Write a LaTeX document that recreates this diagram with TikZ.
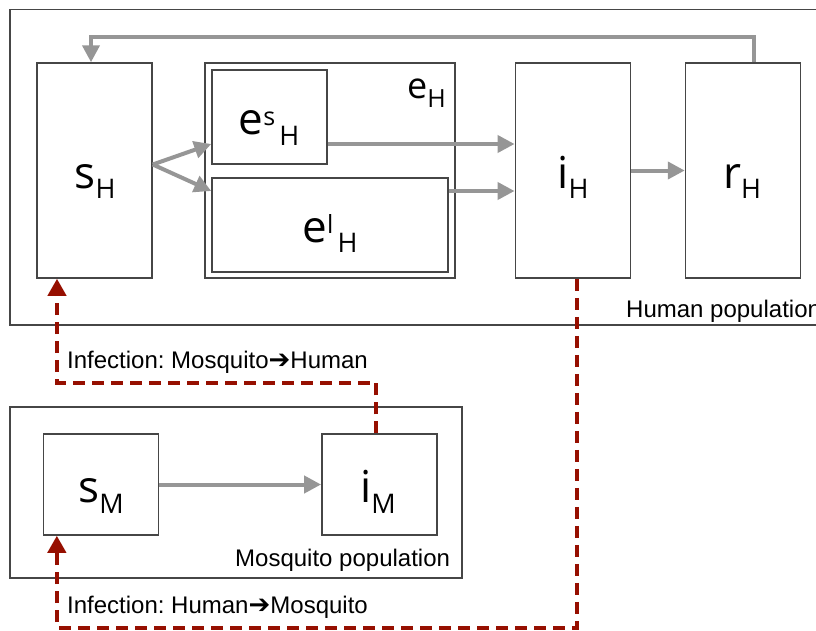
\documentclass[tikz,border=0pt]{standalone}
\usepackage{fontspec}
\setmainfont{Liberation Sans}
\newfontfamily\boxfont{Open Sans}
\newfontfamily\symfont{DejaVu Sans}
\usetikzlibrary{positioning,arrows.meta,calc}
\definecolor{boxgray}{RGB}{70,70,70}
\definecolor{flowgray}{RGB}{150,150,150}
\definecolor{infred}{RGB}{150,15,0}
\frenchspacing

% compartment labels: letter, (superscript), subscript
\newcommand{\cmp}[2]{{\boxfont\fontsize{44}{44}\selectfont #1\raisebox{-10.5pt}{\fontsize{27}{27}\selectfont #2}}}
\newcommand{\cmpx}[3]{{\boxfont\fontsize{44}{44}\selectfont #1\raisebox{9pt}{\fontsize{25}{25}\selectfont #2\,}\raisebox{-10.5pt}{\fontsize{27}{27}\selectfont #3}}}

\begin{document}
\begin{tikzpicture}[x=1pt,y=-1pt,
    comp/.style={draw=boxgray,line width=1.5pt,minimum width=115pt,minimum height=215pt,inner sep=0pt},
    popbox/.style={draw=boxgray,line width=1.5pt},
    flow/.style={draw=flowgray,line width=4pt,-{Triangle[length=17pt,width=17pt]}},
    infect/.style={draw=infred,line width=4pt,dash pattern=on 12pt off 7pt,-{Triangle[length=17pt,width=18pt]}},
    lbl/.style={inner sep=0pt,font=\fontsize{24}{24}\selectfont}]
    \useasboundingbox (0,0) rectangle (816,630);
    \clip (0,0) rectangle (816,630);

    % Populations
    \draw[popbox] (10,9.5) rectangle (840,325);
    \draw[popbox] (10,407) rectangle (462,578);
    \node[lbl,anchor=base west] (humanPop) at (626,317) {Human population};
    \node[lbl,anchor=base west] (mosqPop) at (235,566) {Mosquito population};

    % Human compartments
    \node[comp] (sH) at (94.5,170.5) {};
    \node[comp,minimum width=250pt] (eH) at (330,170.5) {};
    \node[comp,minimum height=94pt] (eS) at (269.5,117) {};
    \node[comp,minimum width=236pt,minimum height=94pt] (eL) at (330,225) {};
    \node[comp] (iH) at (572.8,170.5) {};
    \node[comp,right=53.7pt of iH] (rH) {};

    % Mosquito compartments
    \node[comp,minimum height=101pt] (sM) at (100.85,484.5) {};
    \node[comp,minimum height=101pt,right=162pt of sM] (iM) {};

    % Labels
    \node[inner sep=0pt,anchor=base] (sHtxt) at (95,188) {\cmp{s}{H}};
    \node[inner sep=0pt,anchor=base] (eStxt) at (269,134.5) {\cmpx{e}{s}{H}};
    \node[inner sep=0pt,anchor=base] (eLtxt) at (330,242) {\cmpx{e}{l}{H}};
    \node[inner sep=0pt,anchor=base east] (eHtxt) at (446,98) {{\boxfont\fontsize{36}{36}\selectfont e\raisebox{-9pt}{\fontsize{25}{25}\selectfont H}}};
    \node[inner sep=0pt,anchor=base] (iHtxt) at (573,188) {\cmp{i}{H}};
    \node[inner sep=0pt,anchor=base] (rHtxt) at (742,188) {\cmp{r}{H}};
    \node[inner sep=0pt,anchor=base] (sMtxt) at (101,502.5) {\cmp{s}{M}};
    \node[inner sep=0pt,anchor=base] (iMtxt) at (378,502.5) {\cmp{i}{M}};

    % Flows
    \coordinate (lvlS) at (0,144);
    \coordinate (lvlL) at (0,191);
    \coordinate (lvlTop) at (0,36.5);
    \draw[flow] ([yshift=6pt]sH.east) -- (eS.west |- lvlS);
    \draw[flow] ([yshift=6pt]sH.east) -- (eL.west |- lvlL);
    \draw[flow] (eS.east |- lvlS) -- (iH.west |- lvlS);
    \draw[flow] (eL.east |- lvlL) -- (iH.west |- lvlL);
    \draw[flow] (iH) -- (rH);
    \coordinate (fbStart) at ([xshift=10.5pt]rH.north);
    \coordinate (fbEnd) at ([xshift=-3.5pt]sH.north);
    \draw[flow] (fbStart) -- (fbStart |- lvlTop) -| (fbEnd);
    \draw[flow] (sM) -- (iM);

    % Infection
    \coordinate (mhSrc) at ([xshift=-3.5pt]iM.north);
    \coordinate (mhDst) at ([xshift=-37.5pt]sH.south);
    \coordinate (mhLvl) at (0,382.5);
    \draw[infect] (mhSrc) -- (mhSrc |- mhLvl) -| (mhDst);
    \node[lbl,anchor=base west] (mhText) at (67,368) {Infection: Mosquito{\symfont\fontsize{26}{26}\selectfont ➔}Human};

    \coordinate (hmSrc) at ([xshift=4pt]iH.south);
    \coordinate (hmDst) at ([xshift=-44pt]sM.south);
    \coordinate (hmLvl) at (0,627.5);
    \draw[infect] (hmSrc) -- (hmSrc |- hmLvl) -| (hmDst);
    \node[lbl,anchor=base west] (hmText) at (67,613) {Infection: Human{\symfont\fontsize{26}{26}\selectfont ➔}Mosquito};
\end{tikzpicture}
\end{document}
